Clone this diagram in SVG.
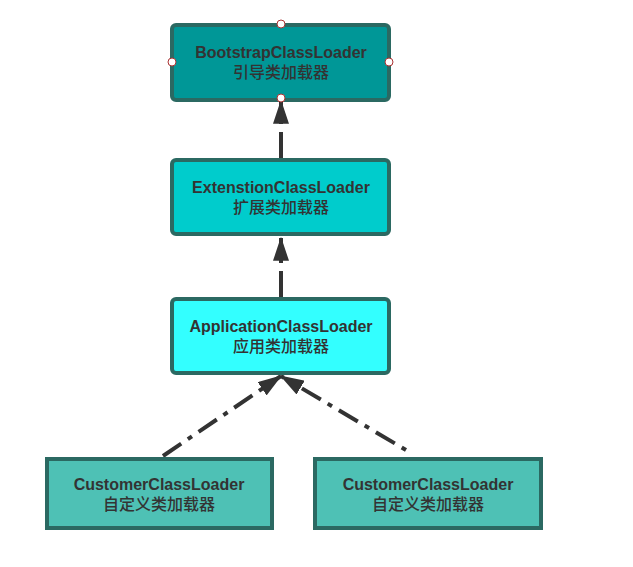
<svg xmlns="http://www.w3.org/2000/svg" width="633" height="567" viewBox="0 0 633 567">
<style>
.box{stroke:#2b6962;stroke-width:4}
.t{font-family:"Liberation Sans","Noto Sans CJK SC",sans-serif;font-size:16px;font-weight:bold;fill:#333;text-anchor:middle}
.c{font-family:"Noto Sans CJK SC",sans-serif;font-size:16px;font-weight:500;fill:#333;text-anchor:middle}
.ln{stroke:#333;stroke-width:4;fill:none}
.h{fill:#fff;stroke:#a33;stroke-width:1}
</style>
<defs>
<marker id="ah" markerWidth="6" markerHeight="4" refX="5.7" refY="2" orient="auto" markerUnits="strokeWidth" viewBox="0 0 6 4">
<path d="M0,0 L6,2 L0,4 Z" fill="#333"/>
</marker>
</defs>
<rect width="633" height="567" fill="#fff"/>
<g id="connectors">
<line class="ln" x1="281" y1="158" x2="281" y2="101" stroke-dasharray="26,8" marker-end="url(#ah)"/>
<line class="ln" x1="281" y1="297" x2="281" y2="238" stroke-dasharray="26,8" marker-end="url(#ah)"/>
<line class="ln" x1="163" y1="456" x2="281" y2="376" stroke-dasharray="22,8,5,8" marker-end="url(#ah)"/>
<line class="ln" x1="406" y1="450" x2="281" y2="376" stroke-dasharray="5,8,22,8" marker-end="url(#ah)"/>
</g>
<g id="bootstrap">
<rect class="box" x="172" y="25" width="217" height="75" rx="4" fill="#009797"/>
<text class="t" x="281" y="58">BootstrapClassLoader</text>
<text class="c" x="281" y="78">引导类加载器</text>
<circle class="h" cx="281" cy="24" r="4"/>
<circle class="h" cx="172" cy="62" r="4"/>
<circle class="h" cx="389" cy="62" r="4"/>
<circle class="h" cx="281" cy="98" r="4"/>
</g>
<g id="extension">
<rect class="box" x="172" y="160" width="217" height="74" rx="4" fill="#00cccc"/>
<text class="t" x="281" y="193">ExtenstionClassLoader</text>
<text class="c" x="281" y="213">扩展类加载器</text>
</g>
<g id="application">
<rect class="box" x="172" y="299" width="217" height="74" rx="4" fill="#33ffff"/>
<text class="t" x="281" y="332">ApplicationClassLoader</text>
<text class="c" x="281" y="352">应用类加载器</text>
</g>
<g id="customer1">
<rect class="box" x="47" y="459" width="225" height="69" fill="#4ec1b5"/>
<text class="t" x="159" y="490">CustomerClassLoader</text>
<text class="c" x="159" y="510">自定义类加载器</text>
</g>
<g id="customer2">
<rect class="box" x="315" y="459" width="226" height="69" fill="#4ec1b5"/>
<text class="t" x="428" y="490">CustomerClassLoader</text>
<text class="c" x="428" y="510">自定义类加载器</text>
</g>
</svg>
